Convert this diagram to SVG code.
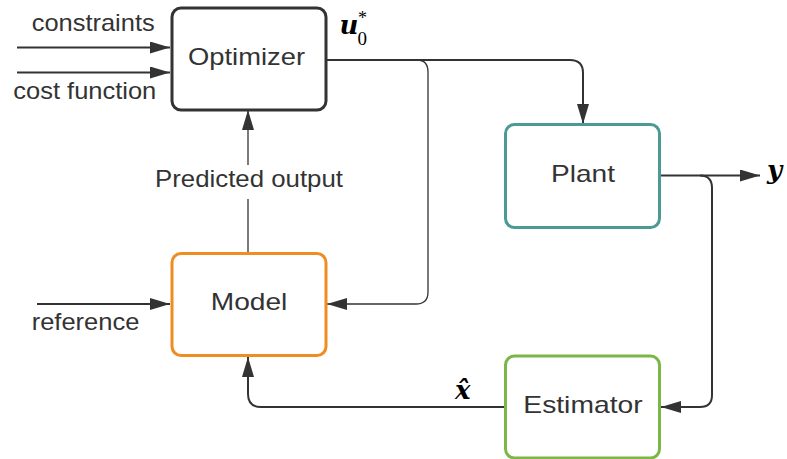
<svg xmlns="http://www.w3.org/2000/svg" width="787" height="459" viewBox="0 0 787 459">
  <style>
    .box { fill: #ffffff; stroke-width: 3; }
    .lbl { font-family: "Liberation Sans", Arial, sans-serif; font-size: 24px; fill: #333333; }
    .math { font-family: "DejaVu Serif", "Liberation Serif", serif; font-style: italic; font-weight: bold; fill: #000000; }
    .num { font-family: "Liberation Serif", "DejaVu Serif", serif; fill: #000000; }
    .wire { fill: none; stroke: #333333; stroke-width: 2; }
    .thin { fill: none; stroke: #333333; stroke-width: 1.3; }
  </style>
  <defs>
    <marker id="arrow" markerUnits="userSpaceOnUse" markerWidth="20" markerHeight="12" refX="20" refY="6" orient="auto">
      <path d="M0,0 L20,6 L0,12 Z" fill="#333333"/>
    </marker>
  </defs>

  <rect width="787" height="459" fill="#ffffff"/>

  <!-- connectors -->
  <g id="connectors">
    <path class="wire" d="M17,47.5 H170" marker-end="url(#arrow)"/>
    <path class="wire" d="M17,72.5 H170" marker-end="url(#arrow)"/>
    <path class="wire" d="M326,60 H570 Q583,60 583,73 V124" marker-end="url(#arrow)"/>
    <path class="thin" d="M417,60 Q428,60 428,72 V292 Q428,304 416,304 H327" marker-end="url(#arrow)"/>
    <path class="thin" d="M248,253 V199"/>
    <path class="thin" d="M248,165 V110" marker-end="url(#arrow)"/>
    <path class="wire" d="M660,175.5 H760" marker-end="url(#arrow)"/>
    <path class="wire" d="M700,175.5 Q712,175.5 712,188 V395 Q712,407 700,407 H661" marker-end="url(#arrow)"/>
    <path class="wire" d="M504,407 H261 Q248,407 248,394 V357" marker-end="url(#arrow)"/>
    <path class="wire" d="M37,304 H170" marker-end="url(#arrow)"/>
  </g>

  <!-- signal labels -->
  <text class="lbl" x="31.7" y="31" textLength="123" lengthAdjust="spacingAndGlyphs">constraints</text>
  <text class="lbl" x="13.3" y="99" textLength="143" lengthAdjust="spacingAndGlyphs">cost function</text>
  <text class="lbl" x="155" y="187" textLength="188" lengthAdjust="spacingAndGlyphs">Predicted output</text>
  <text class="lbl" x="31.7" y="330" textLength="107.7" lengthAdjust="spacingAndGlyphs">reference</text>
  <text class="math" x="339.5" y="34" font-size="26">u</text>
  <text class="num" x="358" y="24" font-size="18">*</text>
  <text class="num" x="357.5" y="45" font-size="19">0</text>
  <text class="math" x="767" y="179" font-size="26">y</text>
  <text class="math" x="455" y="399" font-size="26">x&#x302;</text>

  <!-- blocks -->
  <g id="optimizer">
    <rect class="box" x="172" y="8" width="154" height="102" rx="9" stroke="#333333" stroke-width="2"/>
    <text class="lbl" x="188" y="65" textLength="117" lengthAdjust="spacingAndGlyphs">Optimizer</text>
  </g>
  <g id="plant">
    <rect class="box" x="505.5" y="124.5" width="154" height="103" rx="9" stroke="#4a9a96"/>
    <text class="lbl" x="551" y="182" textLength="64" lengthAdjust="spacingAndGlyphs">Plant</text>
  </g>
  <g id="model">
    <rect class="box" x="172" y="253.5" width="154" height="102" rx="9" stroke="#ef8d22" stroke-width="3.5"/>
    <text class="lbl" x="210.7" y="310" textLength="76.7" lengthAdjust="spacingAndGlyphs">Model</text>
  </g>
  <g id="estimator">
    <rect class="box" x="505.5" y="356" width="154" height="102" rx="9" stroke="#7ab648" stroke-width="3.5"/>
    <text class="lbl" x="523.3" y="413" textLength="119.3" lengthAdjust="spacingAndGlyphs">Estimator</text>
  </g>
</svg>
